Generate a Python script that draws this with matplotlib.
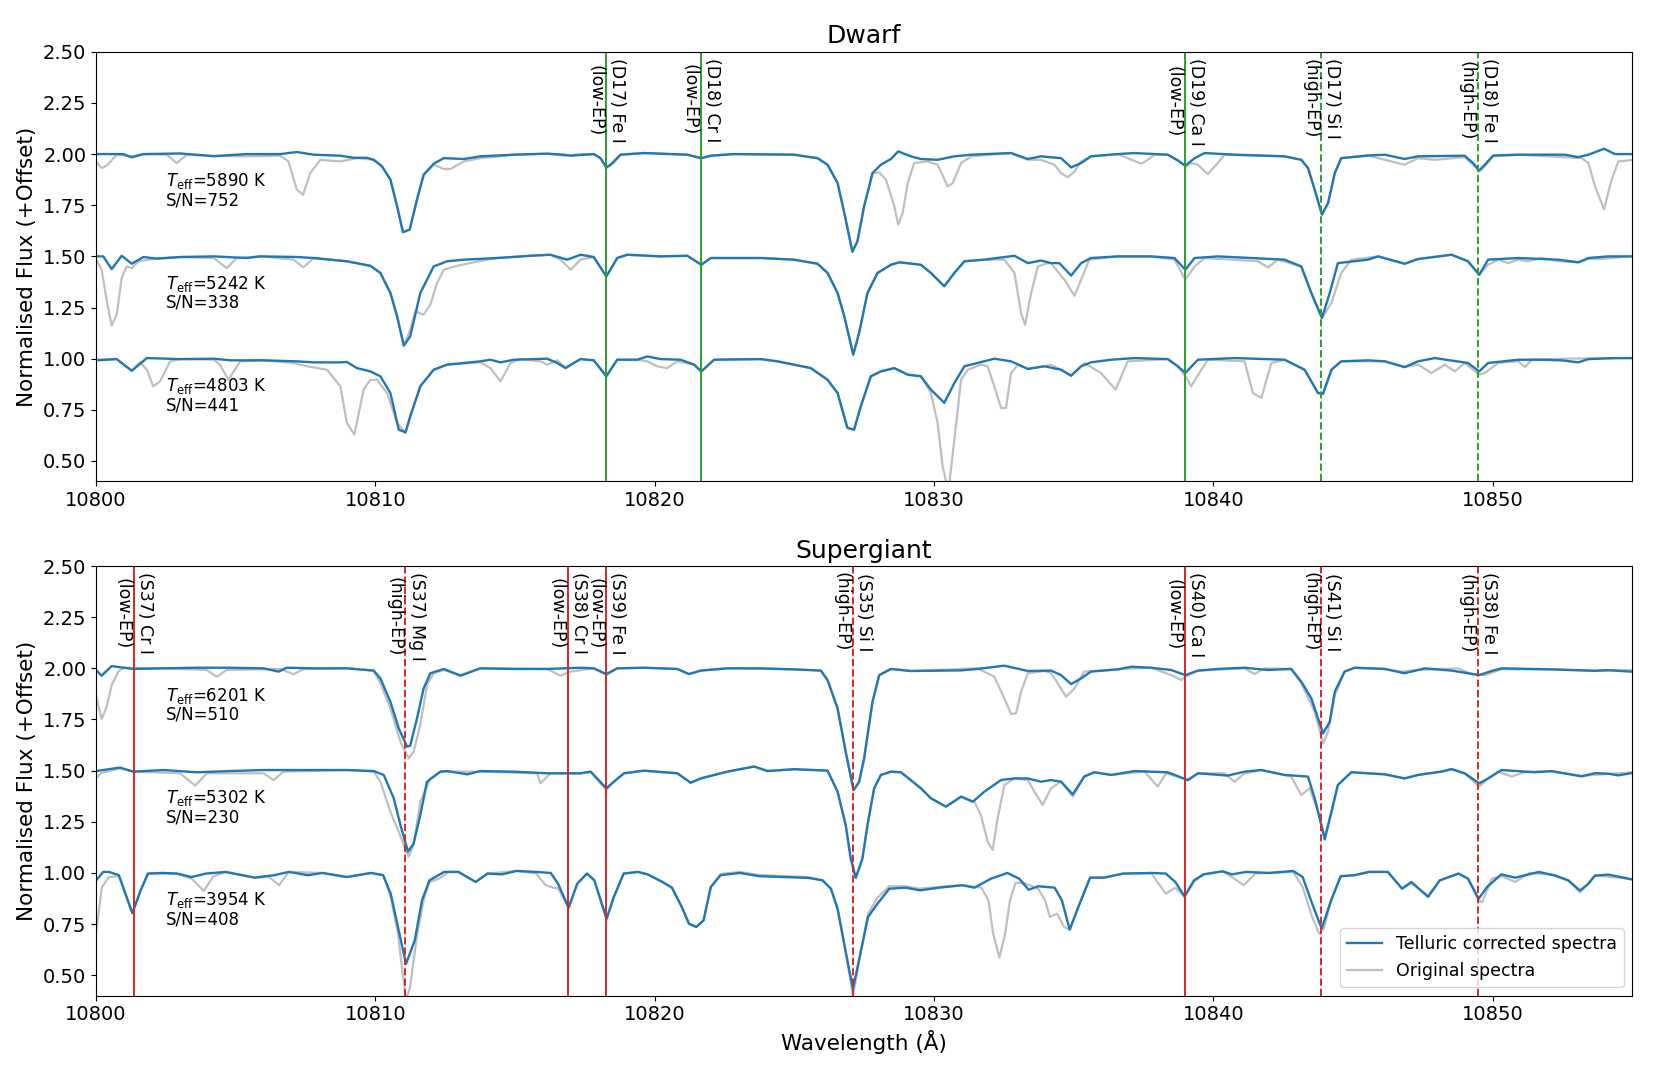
import numpy as np
import matplotlib
matplotlib.use("Agg")
import matplotlib.pyplot as plt

# === DATA (normalised flux; offsets added when plotting) ===
OFFSETS = [1.0, 0.5, 0.0]

DWARF_TEFF = [5890, 5242, 4803]
DWARF_SN = [752, 338, 441]
SG_TEFF = [6201, 5302, 3954]
SG_SN = [510, 230, 408]

# Dwarf, Teff=5890 K
DW1_CORR = [
    (10800.00, 1.000), (10800.98, 1.000), (10801.28, 0.984), (10801.70, 1.000), (10803.01, 1.003),
    (10804.21, 0.990), (10805.40, 1.000), (10806.60, 1.000), (10807.19, 1.010), (10807.79, 0.997),
    (10808.75, 0.992), (10809.22, 0.982), (10809.70, 0.982), (10809.94, 0.972), (10810.24, 0.940),
    (10810.54, 0.875), (10810.78, 0.745), (10810.99, 0.618), (10811.23, 0.631), (10811.49, 0.777),
    (10811.73, 0.899), (10812.09, 0.953), (10812.45, 0.980), (10813.17, 0.976), (10813.76, 0.989),
    (10814.96, 0.997), (10816.15, 1.002), (10816.75, 0.997), (10816.99, 0.992), (10817.82, 1.000),
    (10818.06, 0.980), (10818.27, 0.935), (10818.42, 0.948), (10818.78, 0.997), (10819.62, 1.005),
    (10821.17, 0.997), (10821.67, 0.980), (10822.01, 0.992), (10822.84, 1.000), (10824.99, 0.997),
    (10825.83, 0.980), (10826.19, 0.948), (10826.55, 0.858), (10826.79, 0.712), (10827.08, 0.523),
    (10827.26, 0.574), (10827.50, 0.745), (10827.80, 0.907), (10828.10, 0.948), (10828.46, 0.976),
    (10828.72, 1.013), (10829.17, 0.989), (10829.53, 0.976), (10830.13, 0.972), (10830.73, 0.989),
    (10831.33, 0.997), (10832.76, 1.005), (10833.36, 0.976), (10833.83, 0.989), (10834.55, 0.980),
    (10834.91, 0.935), (10835.27, 0.956), (10835.62, 0.989), (10836.58, 1.000), (10837.18, 1.005),
    (10838.37, 0.997), (10838.73, 0.969), (10839.00, 0.943), (10839.33, 0.980), (10839.69, 1.005),
    (10840.76, 0.997), (10842.55, 0.989), (10843.15, 0.972), (10843.39, 0.932), (10843.63, 0.826),
    (10843.89, 0.704), (10844.11, 0.761), (10844.35, 0.907), (10844.58, 0.980), (10845.54, 0.993),
    (10846.14, 0.997), (10846.85, 0.976), (10847.33, 0.989), (10849.00, 0.992), (10849.30, 0.956),
    (10849.52, 0.920), (10849.72, 0.948), (10850.02, 0.993), (10850.92, 0.997), (10852.59, 0.997),
    (10853.07, 0.985), (10853.43, 0.997), (10853.99, 1.026), (10854.38, 1.000), (10855.06, 1.000)]
DW1_ORIG = [
    (10800.00, 0.964), (10800.20, 0.932), (10800.38, 0.943), (10800.74, 0.997), (10801.28, 0.989),
    (10801.70, 1.000), (10802.53, 0.997), (10802.89, 0.956), (10803.25, 0.997), (10804.21, 0.990),
    (10805.40, 0.989), (10806.60, 0.992), (10806.89, 0.964), (10807.19, 0.826), (10807.41, 0.801),
    (10807.67, 0.907), (10808.03, 0.972), (10808.75, 0.964), (10809.34, 0.980), (10809.94, 0.972),
    (10810.24, 0.940), (10810.54, 0.875), (10810.78, 0.745), (10810.99, 0.618), (10811.23, 0.631),
    (10811.49, 0.777), (10811.73, 0.899), (10812.09, 0.948), (10812.45, 0.927), (10812.69, 0.927),
    (10813.17, 0.964), (10813.76, 0.980), (10814.24, 0.985), (10814.96, 0.997), (10816.15, 1.002),
    (10816.75, 0.992), (10817.35, 1.000), (10817.82, 1.000), (10818.06, 0.980), (10818.27, 0.932),
    (10818.54, 0.956), (10818.78, 0.997), (10819.62, 1.005), (10821.17, 0.997), (10821.67, 0.980),
    (10822.01, 0.992), (10822.84, 1.000), (10824.99, 0.997), (10825.83, 0.980), (10826.19, 0.948),
    (10826.55, 0.858), (10826.79, 0.712), (10827.08, 0.523), (10827.26, 0.574), (10827.50, 0.745),
    (10827.80, 0.907), (10828.04, 0.910), (10828.28, 0.875), (10828.58, 0.745), (10828.72, 0.655),
    (10828.88, 0.712), (10829.06, 0.858), (10829.29, 0.956), (10829.77, 0.964), (10830.13, 0.948),
    (10830.49, 0.842), (10830.67, 0.858), (10830.97, 0.956), (10831.33, 0.989), (10832.76, 1.005),
    (10833.36, 0.972), (10833.83, 0.972), (10834.31, 0.948), (10834.55, 0.907), (10834.79, 0.887),
    (10835.03, 0.915), (10835.27, 0.964), (10835.62, 0.989), (10836.58, 1.000), (10836.94, 0.980),
    (10837.42, 0.953), (10837.66, 0.972), (10837.89, 0.997), (10838.37, 0.997), (10838.73, 0.969),
    (10839.00, 0.940), (10839.21, 0.956), (10839.45, 0.948), (10839.80, 0.902), (10840.16, 0.956),
    (10840.40, 0.997), (10842.55, 0.989), (10843.15, 0.972), (10843.39, 0.932), (10843.63, 0.826),
    (10843.89, 0.704), (10844.11, 0.761), (10844.35, 0.907), (10844.58, 0.980), (10845.54, 0.993),
    (10846.14, 0.972), (10846.85, 0.948), (10847.33, 0.980), (10847.93, 0.972), (10849.00, 0.985),
    (10849.30, 0.948), (10849.52, 0.915), (10849.72, 0.940), (10850.02, 0.989), (10850.92, 0.997),
    (10853.19, 0.980), (10853.43, 0.956), (10853.67, 0.841), (10853.99, 0.730), (10854.26, 0.875),
    (10854.50, 0.964), (10855.06, 0.972)]

# Dwarf, Teff=5242 K
DW2_CORR = [
    (10800.00, 1.000), (10800.26, 1.000), (10800.56, 0.938), (10800.92, 1.003), (10801.28, 0.964),
    (10801.70, 0.997), (10802.17, 0.989), (10803.01, 0.997), (10804.21, 1.000), (10805.40, 0.992),
    (10805.88, 1.000), (10807.19, 0.997), (10807.79, 0.992), (10808.98, 0.976), (10809.82, 0.954),
    (10810.18, 0.919), (10810.54, 0.821), (10810.78, 0.707), (10811.02, 0.564), (10811.25, 0.609),
    (10811.61, 0.821), (10812.09, 0.951), (10812.57, 0.976), (10813.17, 0.984), (10814.36, 0.992),
    (10815.56, 1.003), (10816.27, 1.008), (10816.87, 0.984), (10817.35, 1.008), (10817.82, 0.997),
    (10818.27, 0.902), (10818.66, 0.992), (10819.02, 1.008), (10820.21, 1.000), (10821.17, 1.003),
    (10821.67, 0.959), (10822.01, 0.992), (10823.80, 0.992), (10824.99, 0.984), (10825.83, 0.964),
    (10826.19, 0.919), (10826.55, 0.821), (10826.79, 0.707), (10827.11, 0.520), (10827.32, 0.626),
    (10827.62, 0.821), (10827.98, 0.919), (10828.46, 0.959), (10828.76, 0.971), (10829.53, 0.959),
    (10829.89, 0.919), (10830.37, 0.854), (10830.73, 0.919), (10831.09, 0.976), (10831.80, 0.984),
    (10832.88, 1.003), (10833.36, 0.967), (10833.83, 0.980), (10834.19, 0.967), (10834.49, 0.967),
    (10834.91, 0.906), (10835.27, 0.967), (10835.62, 0.992), (10836.58, 1.000), (10837.77, 1.000),
    (10838.61, 0.992), (10839.00, 0.935), (10839.33, 0.992), (10840.16, 1.000), (10842.55, 0.984),
    (10843.15, 0.951), (10843.51, 0.821), (10843.89, 0.699), (10844.17, 0.821), (10844.46, 0.967),
    (10845.54, 0.984), (10845.90, 1.000), (10846.85, 0.964), (10847.33, 0.987), (10848.53, 1.008),
    (10849.12, 0.976), (10849.52, 0.910), (10849.84, 0.984), (10850.92, 0.992), (10852.35, 0.984),
    (10853.07, 0.971), (10853.43, 0.992), (10854.14, 1.000), (10855.06, 1.000)]
DW2_ORIG = [
    (10800.00, 0.984), (10800.20, 0.935), (10800.38, 0.788), (10800.56, 0.662), (10800.74, 0.715),
    (10800.92, 0.894), (10801.10, 0.951), (10801.28, 0.943), (10801.52, 0.976), (10802.17, 0.989),
    (10803.01, 0.997), (10804.21, 0.992), (10804.68, 0.943), (10805.04, 0.992), (10805.88, 1.000),
    (10807.07, 0.984), (10807.43, 0.946), (10807.79, 0.992), (10808.98, 0.976), (10809.82, 0.954),
    (10810.18, 0.919), (10810.54, 0.821), (10810.78, 0.707), (10811.02, 0.564), (10811.25, 0.642),
    (10811.43, 0.731), (10811.73, 0.715), (10811.97, 0.764), (10812.21, 0.870), (10812.45, 0.935),
    (10812.93, 0.954), (10813.52, 0.971), (10814.36, 0.992), (10815.56, 1.003), (10816.27, 1.008),
    (10816.63, 0.984), (10816.99, 0.935), (10817.35, 0.984), (10817.82, 0.997), (10818.27, 0.902),
    (10818.66, 0.992), (10819.02, 1.008), (10820.21, 1.000), (10821.17, 1.003), (10821.67, 0.959),
    (10822.01, 0.992), (10823.80, 0.992), (10824.99, 0.984), (10825.83, 0.964), (10826.19, 0.919),
    (10826.55, 0.821), (10826.79, 0.707), (10827.11, 0.520), (10827.32, 0.626), (10827.62, 0.821),
    (10827.98, 0.919), (10828.46, 0.959), (10828.76, 0.971), (10829.53, 0.959), (10829.89, 0.919),
    (10830.37, 0.854), (10830.73, 0.919), (10831.09, 0.976), (10831.80, 0.984), (10832.52, 0.984),
    (10832.88, 0.919), (10833.12, 0.723), (10833.26, 0.666), (10833.48, 0.821), (10833.72, 0.951),
    (10834.07, 0.967), (10834.19, 0.967), (10834.67, 0.886), (10835.03, 0.808), (10835.27, 0.886),
    (10835.56, 0.984), (10836.58, 1.000), (10837.77, 1.000), (10838.61, 0.984), (10839.00, 0.886),
    (10839.33, 0.951), (10839.69, 0.992), (10841.60, 0.976), (10841.96, 0.946), (10842.31, 0.984),
    (10843.15, 0.951), (10843.51, 0.821), (10843.89, 0.699), (10844.23, 0.772), (10844.58, 0.919),
    (10844.94, 0.984), (10845.90, 1.000), (10846.85, 0.964), (10847.33, 0.987), (10848.53, 1.008),
    (10849.12, 0.976), (10849.52, 0.910), (10849.84, 0.959), (10850.20, 0.984), (10850.56, 0.967),
    (10850.92, 0.984), (10851.27, 0.976), (10851.75, 0.992), (10852.35, 0.976), (10853.07, 0.971),
    (10853.43, 0.987), (10853.90, 0.987), (10855.06, 1.003)]

# Dwarf, Teff=4803 K
DW3_CORR = [
    (10800.00, 0.992), (10800.74, 0.998), (10801.28, 0.941), (10801.82, 1.003), (10803.01, 0.998),
    (10804.21, 1.000), (10804.80, 0.992), (10806.00, 0.992), (10807.19, 0.987), (10807.79, 0.982),
    (10808.75, 0.982), (10808.98, 0.984), (10809.34, 0.954), (10809.82, 0.938), (10810.18, 0.914),
    (10810.54, 0.832), (10810.84, 0.653), (10811.08, 0.640), (10811.25, 0.718), (10811.61, 0.865),
    (10812.09, 0.946), (10812.57, 0.971), (10813.76, 0.987), (10814.12, 0.995), (10814.48, 0.982),
    (10814.96, 0.995), (10816.15, 1.000), (10816.51, 0.979), (10816.81, 0.954), (10817.11, 0.979),
    (10817.35, 0.998), (10817.82, 0.992), (10818.27, 0.914), (10818.66, 0.995), (10819.38, 0.995),
    (10819.74, 1.011), (10820.21, 0.998), (10820.93, 0.995), (10821.41, 0.971), (10821.67, 0.938),
    (10822.13, 0.995), (10823.80, 0.998), (10824.40, 0.987), (10825.59, 0.954), (10826.19, 0.897),
    (10826.55, 0.832), (10826.90, 0.662), (10827.14, 0.653), (10827.38, 0.767), (10827.74, 0.914),
    (10828.10, 0.938), (10828.58, 0.954), (10829.06, 0.922), (10829.53, 0.914), (10829.89, 0.849),
    (10830.37, 0.784), (10830.73, 0.881), (10831.09, 0.963), (10831.56, 0.979), (10832.16, 1.000),
    (10832.76, 0.987), (10833.36, 0.950), (10833.96, 0.963), (10834.55, 0.946), (10834.91, 0.917),
    (10835.27, 0.963), (10835.62, 0.982), (10836.34, 0.995), (10837.18, 1.003), (10838.37, 0.998),
    (10838.73, 0.963), (10839.00, 0.930), (10839.45, 0.995), (10840.76, 1.003), (10842.55, 0.995),
    (10843.27, 0.946), (10843.75, 0.832), (10843.93, 0.829), (10844.23, 0.946), (10844.58, 0.987),
    (10845.54, 0.992), (10846.14, 0.987), (10846.85, 0.959), (10847.33, 0.987), (10847.93, 1.003),
    (10849.12, 0.979), (10849.52, 0.938), (10849.84, 0.979), (10850.92, 0.995), (10851.75, 0.995),
    (10852.47, 0.992), (10853.07, 0.982), (10853.43, 0.998), (10854.38, 1.003), (10855.06, 1.003)]
DW3_ORIG = [
    (10800.00, 0.995), (10800.74, 0.998), (10801.28, 0.941), (10801.58, 0.982), (10801.82, 0.946),
    (10802.05, 0.865), (10802.29, 0.889), (10802.65, 0.987), (10803.01, 0.998), (10804.21, 0.995),
    (10804.44, 0.971), (10804.74, 0.897), (10805.16, 0.987), (10806.00, 0.992), (10807.07, 0.979),
    (10807.55, 0.963), (10808.27, 0.946), (10808.75, 0.865), (10808.98, 0.686), (10809.25, 0.629),
    (10809.58, 0.849), (10809.82, 0.897), (10810.06, 0.897), (10810.42, 0.832), (10810.78, 0.686),
    (10811.08, 0.637), (10811.25, 0.718), (10811.61, 0.865), (10812.09, 0.946), (10812.57, 0.971),
    (10813.76, 0.982), (10814.12, 0.954), (10814.48, 0.889), (10814.84, 0.979), (10815.20, 0.998),
    (10815.91, 0.987), (10816.15, 0.971), (10816.51, 0.992), (10816.81, 0.959), (10817.11, 0.979),
    (10817.35, 0.998), (10817.82, 0.992), (10818.27, 0.914), (10818.66, 0.995), (10819.38, 0.995),
    (10819.74, 0.987), (10820.09, 0.963), (10820.45, 0.954), (10820.81, 0.987), (10821.41, 0.971),
    (10821.67, 0.938), (10822.13, 0.995), (10823.80, 0.998), (10824.40, 0.987), (10825.59, 0.954),
    (10826.19, 0.897), (10826.55, 0.832), (10826.90, 0.662), (10827.14, 0.653), (10827.38, 0.767),
    (10827.74, 0.914), (10828.10, 0.938), (10828.58, 0.954), (10829.06, 0.922), (10829.53, 0.914),
    (10829.89, 0.832), (10830.13, 0.686), (10830.31, 0.474), (10830.45, 0.390), (10830.55, 0.390),
    (10830.73, 0.605), (10830.97, 0.897), (10831.21, 0.946), (10831.68, 0.971), (10831.92, 0.963),
    (10832.16, 0.865), (10832.40, 0.759), (10832.58, 0.759), (10832.76, 0.930), (10833.00, 0.971),
    (10833.36, 0.950), (10833.96, 0.963), (10834.19, 0.971), (10834.55, 0.946), (10834.91, 0.917),
    (10835.27, 0.963), (10835.38, 0.979), (10835.98, 0.930), (10836.50, 0.849), (10836.94, 0.987),
    (10838.37, 0.998), (10838.73, 0.963), (10839.00, 0.914), (10839.21, 0.865), (10839.57, 0.946),
    (10839.81, 0.995), (10841.12, 0.987), (10841.42, 0.832), (10841.72, 0.808), (10842.08, 0.979),
    (10842.55, 0.995), (10843.27, 0.946), (10843.75, 0.832), (10843.93, 0.829), (10844.23, 0.946),
    (10844.58, 0.987), (10846.14, 0.987), (10846.85, 0.959), (10847.33, 0.971), (10847.81, 0.930),
    (10848.29, 0.971), (10848.65, 0.938), (10849.00, 0.979), (10849.52, 0.922), (10849.72, 0.930),
    (10850.20, 0.979), (10850.92, 0.987), (10851.16, 0.959), (10851.40, 0.995), (10852.47, 1.000),
    (10855.06, 1.003)]

# Supergiant, Teff=6201 K
SG1_CORR = [
    (10800.00, 0.992), (10800.20, 0.964), (10800.56, 1.011), (10800.98, 1.003), (10801.34, 0.997),
    (10802.41, 1.000), (10803.61, 1.003), (10804.80, 1.003), (10806.00, 1.000), (10806.54, 0.984),
    (10806.83, 1.003), (10807.79, 1.000), (10808.98, 1.000), (10809.94, 0.989), (10810.18, 0.951),
    (10810.54, 0.837), (10810.84, 0.706), (10811.14, 0.617), (10811.25, 0.622), (10811.49, 0.755),
    (10811.73, 0.902), (10811.97, 0.976), (10812.45, 0.997), (10813.05, 0.964), (10813.76, 1.000),
    (10814.96, 0.997), (10816.15, 0.997), (10817.35, 1.003), (10817.82, 1.000), (10818.27, 0.972),
    (10818.66, 1.000), (10819.62, 1.003), (10820.81, 0.997), (10821.23, 0.972), (10821.65, 0.989),
    (10822.60, 1.000), (10823.80, 1.000), (10824.99, 0.995), (10825.95, 0.989), (10826.19, 0.943),
    (10826.55, 0.804), (10826.84, 0.592), (10827.12, 0.405), (10827.32, 0.445), (10827.50, 0.560),
    (10827.80, 0.837), (10828.04, 0.967), (10828.46, 0.997), (10829.17, 0.987), (10830.97, 0.990),
    (10831.56, 0.997), (10832.52, 1.013), (10833.36, 0.987), (10834.19, 0.989), (10834.55, 0.967),
    (10834.91, 0.923), (10835.27, 0.951), (10835.62, 0.984), (10836.58, 0.995), (10837.06, 1.008),
    (10837.77, 1.003), (10838.49, 0.992), (10839.00, 0.967), (10839.45, 0.989), (10840.16, 0.997),
    (10841.12, 1.003), (10841.96, 0.992), (10842.79, 0.997), (10843.15, 0.935), (10843.51, 0.853),
    (10843.75, 0.755), (10843.93, 0.682), (10844.17, 0.739), (10844.35, 0.886), (10844.70, 0.984),
    (10845.06, 1.003), (10846.14, 0.997), (10846.85, 0.976), (10847.57, 1.000), (10848.53, 0.989),
    (10849.12, 0.976), (10849.52, 0.967), (10849.96, 0.987), (10850.32, 1.000), (10852.11, 0.995),
    (10853.66, 0.988), (10854.14, 0.991), (10855.06, 0.983)]
SG1_ORIG = [
    (10800.00, 0.869), (10800.20, 0.752), (10800.38, 0.812), (10800.56, 0.918), (10800.80, 0.984),
    (10800.98, 1.003), (10802.41, 1.000), (10803.97, 0.992), (10804.32, 0.959), (10804.68, 0.992),
    (10806.60, 0.997), (10807.07, 0.971), (10807.43, 0.997), (10808.98, 1.000), (10809.94, 0.989),
    (10810.18, 0.927), (10810.54, 0.804), (10810.90, 0.641), (10811.19, 0.560), (10811.37, 0.592),
    (10811.61, 0.723), (10811.85, 0.918), (10812.09, 0.976), (10812.45, 0.992), (10813.05, 0.967),
    (10813.76, 1.000), (10816.15, 0.997), (10816.63, 0.964), (10816.99, 0.984), (10817.82, 1.000),
    (10818.27, 0.967), (10818.66, 1.000), (10819.62, 1.003), (10820.81, 0.997), (10821.23, 0.972),
    (10821.65, 0.989), (10822.60, 1.000), (10824.99, 0.995), (10825.95, 0.989), (10826.19, 0.943),
    (10826.55, 0.804), (10826.84, 0.592), (10827.12, 0.405), (10827.32, 0.445), (10827.50, 0.560),
    (10827.80, 0.837), (10828.04, 0.967), (10828.46, 0.997), (10829.17, 0.987), (10831.56, 1.000),
    (10832.16, 0.959), (10832.52, 0.853), (10832.76, 0.777), (10832.94, 0.780), (10833.12, 0.886),
    (10833.36, 0.976), (10833.96, 0.987), (10834.19, 0.976), (10834.43, 0.927), (10834.73, 0.861),
    (10835.03, 0.902), (10835.38, 0.984), (10836.58, 0.995), (10837.77, 1.003), (10838.49, 0.967),
    (10838.85, 0.943), (10839.00, 0.959), (10839.45, 0.989), (10841.12, 1.000), (10841.48, 0.972),
    (10841.84, 1.000), (10842.79, 0.997), (10843.15, 0.927), (10843.63, 0.788), (10843.93, 0.633),
    (10844.11, 0.690), (10844.35, 0.869), (10844.70, 0.984), (10845.06, 1.003), (10846.14, 0.997),
    (10846.73, 0.984), (10847.33, 0.992), (10848.77, 1.000), (10849.24, 0.972), (10849.72, 0.967),
    (10850.32, 0.995), (10852.11, 0.995), (10853.66, 0.988), (10855.06, 0.991)]

# Supergiant, Teff=5302 K
SG2_CORR = [
    (10800.00, 0.998), (10800.86, 1.015), (10801.34, 0.995), (10802.41, 1.003), (10803.61, 0.992),
    (10804.80, 0.998), (10806.00, 1.003), (10807.19, 1.003), (10808.98, 1.003), (10809.94, 0.998),
    (10810.30, 0.979), (10810.66, 0.865), (10810.90, 0.734), (10811.17, 0.604), (10811.37, 0.644),
    (10811.61, 0.783), (10811.85, 0.946), (10812.33, 0.995), (10812.57, 0.998), (10813.29, 0.982),
    (10813.76, 0.998), (10814.96, 0.995), (10816.15, 0.987), (10817.35, 0.987), (10817.71, 0.995),
    (10818.27, 0.914), (10818.54, 0.946), (10818.90, 0.987), (10819.62, 1.000), (10820.81, 0.987),
    (10821.29, 0.941), (10821.65, 0.962), (10822.60, 0.995), (10823.56, 1.020), (10824.04, 0.998),
    (10824.99, 1.007), (10826.19, 1.000), (10826.55, 0.897), (10826.84, 0.734), (10827.02, 0.571),
    (10827.20, 0.476), (10827.44, 0.571), (10827.62, 0.734), (10827.86, 0.914), (10828.10, 0.979),
    (10828.46, 0.995), (10828.82, 0.992), (10829.53, 0.914), (10829.89, 0.865), (10830.43, 0.824),
    (10830.97, 0.873), (10831.39, 0.848), (10831.80, 0.897), (10832.40, 0.954), (10832.88, 0.962),
    (10833.36, 0.962), (10833.83, 0.946), (10834.19, 0.954), (10834.55, 0.946), (10834.97, 0.884),
    (10835.38, 0.971), (10835.74, 0.992), (10836.34, 0.979), (10837.18, 0.998), (10838.37, 0.992),
    (10839.09, 0.954), (10839.45, 0.987), (10840.52, 0.976), (10841.12, 0.995), (10841.72, 1.003),
    (10842.55, 0.979), (10843.39, 0.971), (10843.63, 0.865), (10843.81, 0.767), (10843.99, 0.664),
    (10844.23, 0.799), (10844.46, 0.930), (10844.94, 0.992), (10846.14, 0.982), (10846.85, 0.962),
    (10847.33, 0.979), (10848.17, 0.995), (10848.53, 1.008), (10849.00, 0.987), (10849.52, 0.938),
    (10849.84, 0.962), (10850.32, 1.003), (10851.51, 0.992), (10852.11, 0.998), (10853.19, 0.972),
    (10853.66, 0.988), (10854.14, 0.985), (10854.50, 0.977), (10855.06, 0.990)]
SG2_ORIG = [
    (10800.00, 0.962), (10800.17, 0.987), (10800.86, 1.011), (10801.34, 0.995), (10803.01, 0.987),
    (10803.55, 0.927), (10803.97, 0.987), (10806.00, 0.987), (10806.36, 0.954), (10806.71, 0.995),
    (10808.98, 1.003), (10809.94, 0.995), (10810.18, 0.946), (10810.54, 0.799), (10810.84, 0.701),
    (10811.19, 0.579), (10811.37, 0.636), (10811.61, 0.848), (10811.97, 0.962), (10812.33, 0.995),
    (10813.76, 0.995), (10815.79, 0.987), (10815.91, 0.938), (10816.27, 0.987), (10817.35, 0.987),
    (10817.71, 0.995), (10818.27, 0.905), (10818.54, 0.946), (10818.90, 0.987), (10819.62, 1.000),
    (10820.81, 0.987), (10821.29, 0.941), (10821.65, 0.962), (10822.60, 0.995), (10823.56, 1.020),
    (10824.04, 0.998), (10824.99, 1.007), (10826.19, 1.000), (10826.55, 0.897), (10826.84, 0.734),
    (10827.02, 0.571), (10827.20, 0.476), (10827.44, 0.571), (10827.62, 0.734), (10827.86, 0.914),
    (10828.10, 0.979), (10828.46, 0.995), (10828.82, 0.992), (10829.53, 0.914), (10829.89, 0.865),
    (10830.43, 0.824), (10830.97, 0.873), (10831.45, 0.848), (10831.68, 0.783), (10831.92, 0.653),
    (10832.10, 0.612), (10832.28, 0.767), (10832.52, 0.930), (10832.88, 0.962), (10833.36, 0.954),
    (10833.60, 0.897), (10833.89, 0.832), (10834.19, 0.914), (10834.55, 0.946), (10834.97, 0.873),
    (10835.38, 0.971), (10835.74, 0.992), (10836.34, 0.979), (10837.54, 0.995), (10838.01, 0.922),
    (10838.31, 0.987), (10839.09, 0.954), (10839.45, 0.987), (10840.40, 0.987), (10840.76, 0.946),
    (10841.12, 0.987), (10841.72, 1.003), (10842.79, 0.971), (10843.15, 0.881), (10843.45, 0.914),
    (10843.75, 0.799), (10843.99, 0.677), (10844.23, 0.799), (10844.46, 0.930), (10844.94, 0.992),
    (10846.14, 0.982), (10846.85, 0.962), (10847.33, 0.979), (10848.53, 1.005), (10849.00, 0.987),
    (10849.52, 0.922), (10849.84, 0.962), (10850.20, 0.995), (10850.68, 0.971), (10851.20, 0.995),
    (10852.11, 0.995), (10853.19, 0.975), (10855.06, 0.992)]

# Supergiant, Teff=3954 K
SG3_CORR = [
    (10800.00, 0.964), (10800.26, 1.005), (10800.47, 1.005), (10800.82, 0.989), (10801.30, 0.804),
    (10801.60, 0.915), (10801.86, 0.997), (10802.38, 1.000), (10802.90, 0.997), (10803.42, 0.980),
    (10803.94, 0.997), (10804.64, 1.005), (10805.68, 0.977), (10806.38, 0.989), (10806.90, 1.005),
    (10807.59, 0.989), (10808.11, 1.000), (10808.98, 0.980), (10809.85, 1.000), (10810.28, 0.989),
    (10810.55, 0.899), (10810.81, 0.736), (10811.10, 0.556), (10811.41, 0.670), (10811.67, 0.866),
    (10811.94, 0.964), (10812.46, 1.005), (10812.98, 1.005), (10813.59, 0.956), (10814.02, 0.997),
    (10814.54, 0.993), (10815.06, 1.010), (10815.76, 1.005), (10816.28, 1.000), (10816.54, 0.948),
    (10816.92, 0.830), (10817.23, 0.948), (10817.58, 0.997), (10817.84, 0.964), (10818.28, 0.777),
    (10818.54, 0.883), (10818.89, 0.997), (10819.41, 1.005), (10819.75, 0.993), (10820.28, 0.956),
    (10820.62, 0.928), (10820.97, 0.834), (10821.23, 0.752), (10821.49, 0.736), (10821.75, 0.768),
    (10822.01, 0.931), (10822.36, 0.989), (10823.05, 1.000), (10823.75, 0.984), (10824.62, 0.980),
    (10825.49, 0.976), (10826.01, 0.964), (10826.31, 0.923), (10826.55, 0.825), (10826.79, 0.650),
    (10827.10, 0.434), (10827.39, 0.622), (10827.64, 0.785), (10827.98, 0.850), (10828.40, 0.923),
    (10828.99, 0.928), (10829.50, 0.915), (10830.18, 0.928), (10831.02, 0.940), (10831.45, 0.928),
    (10832.04, 0.972), (10832.63, 1.000), (10833.05, 0.972), (10833.39, 0.918), (10833.73, 0.935),
    (10834.32, 0.928), (10834.58, 0.866), (10834.86, 0.723), (10835.17, 0.834), (10835.59, 0.977),
    (10836.10, 0.977), (10836.78, 0.997), (10837.79, 1.000), (10838.30, 0.997), (10838.64, 0.956),
    (10838.97, 0.886), (10839.31, 0.964), (10839.65, 0.993), (10840.33, 1.008), (10840.67, 0.993),
    (10841.17, 1.005), (10842.02, 1.000), (10842.86, 1.010), (10843.20, 0.980), (10843.54, 0.850),
    (10843.88, 0.728), (10844.22, 0.866), (10844.56, 0.984), (10845.06, 0.989), (10845.57, 1.005),
    (10846.25, 1.005), (10846.76, 0.923), (10847.09, 0.956), (10847.69, 0.883), (10848.11, 0.964),
    (10848.78, 0.997), (10849.12, 0.972), (10849.50, 0.874), (10849.80, 0.931), (10850.31, 0.993),
    (10850.81, 0.977), (10851.66, 1.005), (10852.23, 0.987), (10852.71, 0.963), (10853.13, 0.914),
    (10853.42, 0.946), (10853.66, 0.987), (10854.14, 0.992), (10854.62, 0.979), (10855.06, 0.966)]
SG3_ORIG = [
    (10800.00, 0.703), (10800.21, 0.931), (10800.47, 0.980), (10800.82, 0.984), (10801.30, 0.804),
    (10801.60, 0.915), (10801.86, 0.997), (10802.90, 0.997), (10803.42, 0.972), (10803.86, 0.912),
    (10804.20, 0.984), (10804.64, 1.005), (10805.68, 0.977), (10806.20, 0.980), (10806.55, 0.940),
    (10806.90, 1.005), (10808.11, 1.000), (10808.98, 0.980), (10809.85, 1.000), (10810.28, 0.989),
    (10810.55, 0.883), (10810.81, 0.703), (10810.98, 0.507), (10811.10, 0.380), (10811.24, 0.440),
    (10811.50, 0.703), (10811.76, 0.883), (10811.94, 0.956), (10812.28, 0.972), (10812.63, 1.005),
    (10812.98, 1.005), (10813.59, 0.956), (10814.02, 0.997), (10815.06, 1.010), (10815.76, 0.997),
    (10816.10, 0.940), (10816.37, 0.928), (10816.54, 0.925), (10816.92, 0.830), (10817.23, 0.948),
    (10817.58, 0.997), (10817.84, 0.964), (10818.28, 0.770), (10818.54, 0.883), (10818.89, 0.997),
    (10819.41, 1.005), (10819.75, 0.993), (10820.28, 0.956), (10820.62, 0.928), (10820.97, 0.834),
    (10821.23, 0.752), (10821.49, 0.736), (10821.75, 0.768), (10822.01, 0.931), (10822.36, 0.995),
    (10823.05, 1.005), (10823.75, 0.990), (10824.62, 0.985), (10825.49, 0.980), (10826.01, 0.964),
    (10826.31, 0.923), (10826.55, 0.825), (10826.79, 0.650), (10827.10, 0.400), (10827.39, 0.620),
    (10827.64, 0.800), (10827.98, 0.880), (10828.40, 0.935), (10828.99, 0.935), (10829.50, 0.923),
    (10830.18, 0.932), (10831.02, 0.940), (10831.70, 0.928), (10831.95, 0.866), (10832.12, 0.703),
    (10832.34, 0.586), (10832.55, 0.703), (10832.72, 0.866), (10832.92, 0.951), (10833.22, 0.951),
    (10833.73, 0.923), (10833.98, 0.866), (10834.15, 0.785), (10834.41, 0.801), (10834.66, 0.736),
    (10834.86, 0.723), (10835.17, 0.834), (10835.59, 0.977), (10836.10, 0.980), (10836.78, 0.997),
    (10837.79, 0.997), (10838.04, 0.948), (10838.30, 0.899), (10838.64, 0.928), (10838.97, 0.883),
    (10839.31, 0.956), (10839.65, 0.993), (10840.33, 1.008), (10840.67, 0.980), (10841.09, 0.940),
    (10841.51, 0.997), (10842.86, 1.005), (10843.20, 0.931), (10843.54, 0.785), (10843.79, 0.703),
    (10843.96, 0.728), (10844.22, 0.866), (10844.56, 0.984), (10845.06, 0.989), (10845.57, 1.005),
    (10846.25, 1.005), (10846.76, 0.923), (10847.09, 0.950), (10847.69, 0.890), (10848.11, 0.964),
    (10848.78, 0.997), (10849.12, 0.972), (10849.50, 0.865), (10849.63, 0.858), (10849.97, 0.972),
    (10850.31, 0.985), (10850.81, 0.956), (10851.32, 1.000), (10852.23, 0.990), (10852.71, 0.966),
    (10853.13, 0.905), (10853.42, 0.946), (10853.66, 0.987), (10855.06, 0.970)]

# identified lines: (wavelength, label, high-EP?)
DWARF_LINES = [
    (10818.27, "(D17) Fe I\n(low-EP)", False),
    (10821.66, "(D18) Cr I\n(low-EP)", False),
    (10838.97, "(D19) Ca I\n(low-EP)", False),
    (10843.86, "(D17) Si I\n(high-EP)", True),
    (10849.47, "(D18) Fe I\n(high-EP)", True),
]
SG_LINES = [
    (10801.36, "(S37) Cr I\n(low-EP)", False),
    (10811.08, "(S37) Mg I\n(high-EP)", True),
    (10816.90, "(S38) Cr I\n(low-EP)", False),
    (10818.27, "(S39) Fe I\n(low-EP)", False),
    (10827.09, "(S35) Si I\n(high-EP)", True),
    (10838.97, "(S40) Ca I\n(low-EP)", False),
    (10843.86, "(S41) Si I\n(high-EP)", True),
    (10849.47, "(S38) Fe I\n(high-EP)", True),
]

BLUE = "#1f77b4"
GREY = "#bfbfbf"


def draw_panel(ax, spectra, teffs, sns, lines, line_color, title):
    for (corr, orig), off, teff, sn in zip(spectra, OFFSETS, teffs, sns):
        w_o, f_o = np.array(orig).T
        w_c, f_c = np.array(corr).T
        ax.plot(w_o, f_o + off, color=GREY, lw=1.6)
        ax.plot(w_c, f_c + off, color=BLUE, lw=1.7)
        ax.text(10802.5, off + 0.915, r"$T_{\rm eff}$=%d K" % teff + "\nS/N=%d" % sn,
                fontsize=12, va="top", ha="left", linespacing=1.0)
    for wl, label, high in lines:
        ax.axvline(wl, color=line_color, lw=1.4, ls="--" if high else "-")
        ax.text(wl, 2.47, label, rotation=270, ha="center", va="top",
                multialignment="center", fontsize=12.5, linespacing=1.3)
    ax.set_xlim(10800, 10855)
    ax.set_ylim(0.4, 2.5)
    ax.set_xticks(np.arange(10800, 10851, 10))
    ax.set_yticks(np.arange(0.5, 2.51, 0.25))
    ax.yaxis.set_major_formatter(matplotlib.ticker.FormatStrFormatter("%.2f"))
    ax.tick_params(labelsize=14)
    ax.set_ylabel("Normalised Flux (+Offset)", fontsize=15.5)
    ax.set_title(title, fontsize=18)


fig = plt.figure(figsize=(16.61, 10.9), dpi=100)
ax_top = fig.add_axes([0.0578, 0.5583, 0.9249, 0.3942])
ax_bot = fig.add_axes([0.0578, 0.0865, 0.9249, 0.3942])

draw_panel(ax_top, [(DW1_CORR, DW1_ORIG), (DW2_CORR, DW2_ORIG), (DW3_CORR, DW3_ORIG)],
           DWARF_TEFF, DWARF_SN, DWARF_LINES, "#2ca02c", "Dwarf")
draw_panel(ax_bot, [(SG1_CORR, SG1_ORIG), (SG2_CORR, SG2_ORIG), (SG3_CORR, SG3_ORIG)],
           SG_TEFF, SG_SN, SG_LINES, "#d62728", "Supergiant")
ax_bot.set_xlabel("Wavelength (Å)", fontsize=15.5)

h_blue = plt.Line2D([], [], color=BLUE, lw=1.7, label="Telluric corrected spectra")
h_grey = plt.Line2D([], [], color=GREY, lw=1.6, label="Original spectra")
ax_bot.legend(handles=[h_blue, h_grey], loc="lower right", fontsize=12.5)

fig.savefig("out.png", dpi=100)
